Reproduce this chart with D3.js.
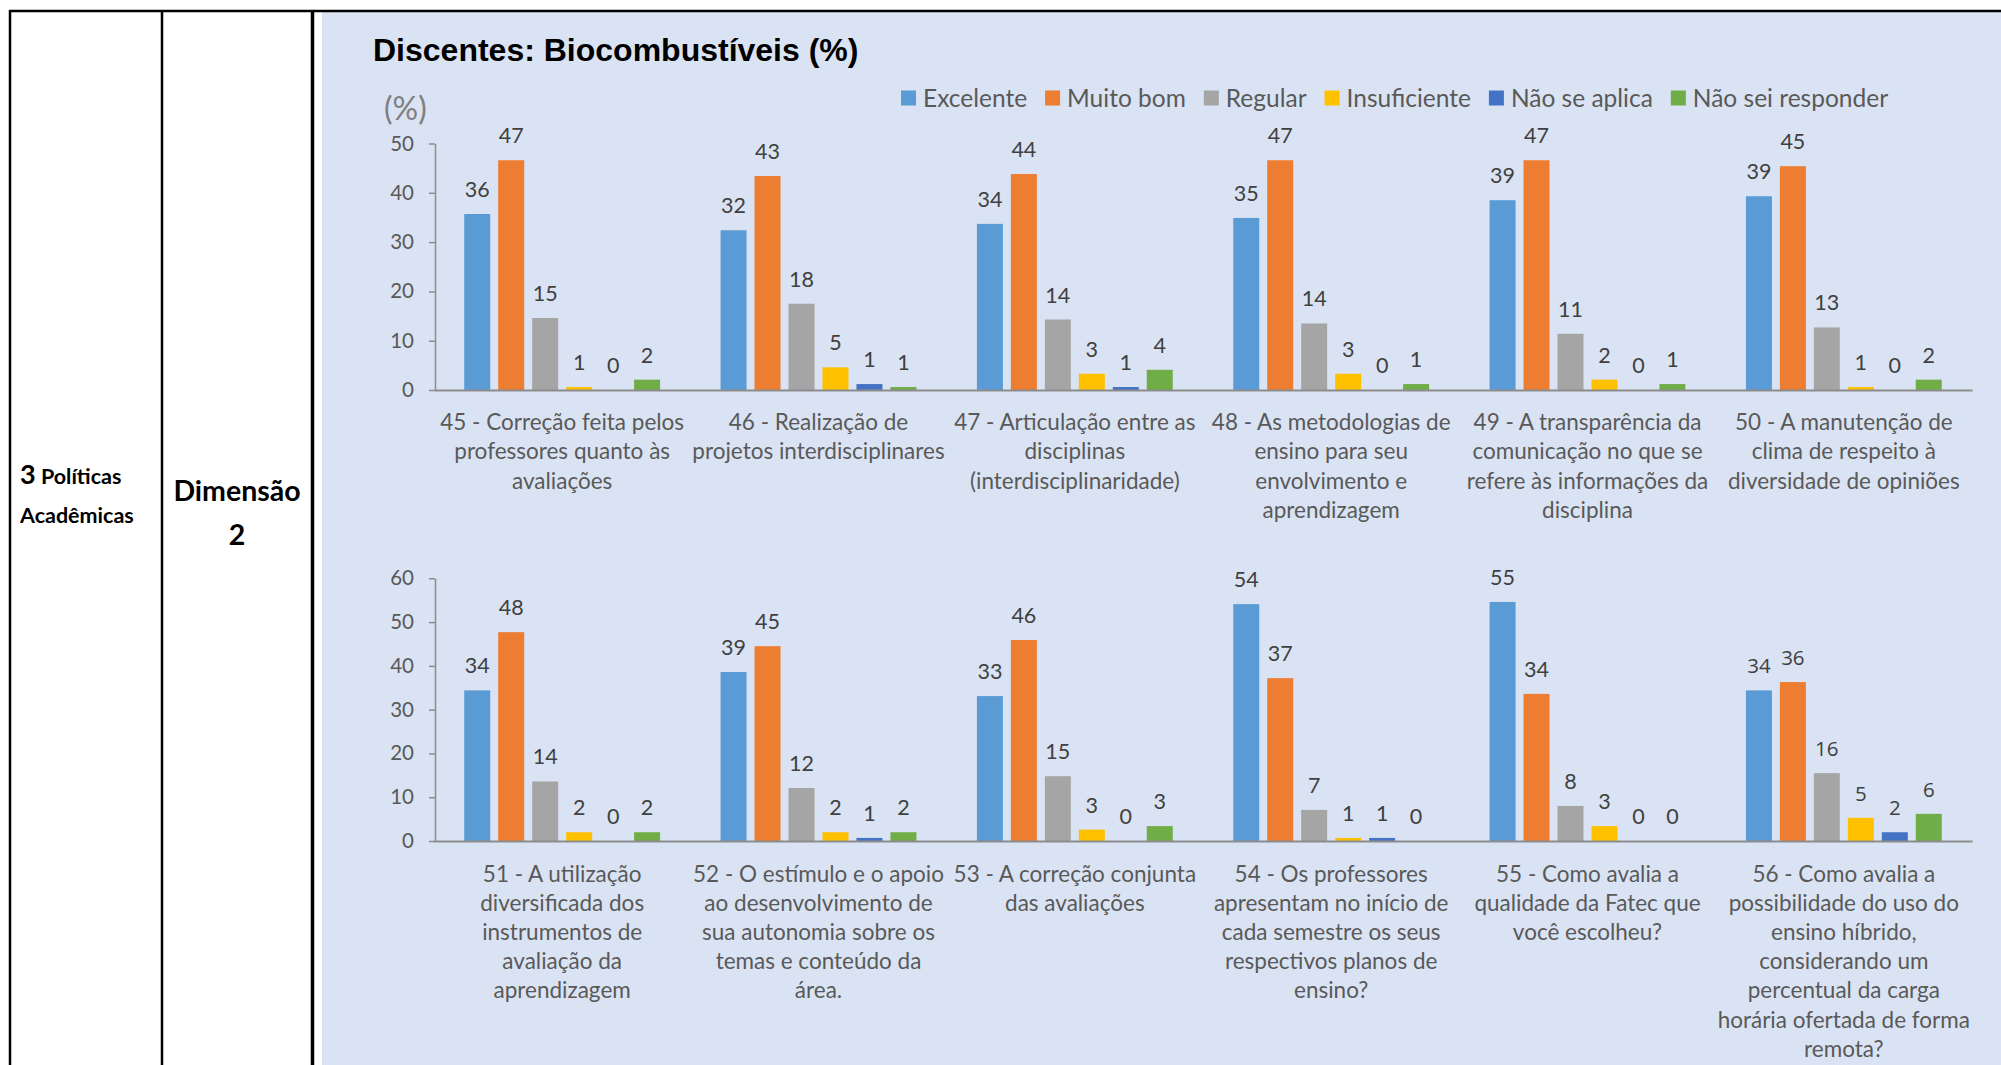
<!DOCTYPE html>
<html>
<head>
<meta charset="utf-8">
<script src="https://cdn.jsdelivr.net/npm/d3@7"></script>
<style>
  html, body { margin: 0; padding: 0; background: #ffffff; }
  svg { display: block; }
</style>
</head>
<body>
<svg id="chart" width="2001" height="1065"></svg>
<script>
// ---------- DATA ----------
const series = ["Excelente", "Muito bom", "Regular", "Insuficiente", "Não se aplica", "Não sei responder"];
const seriesColors = ["#5B9BD5", "#ED7D31", "#A5A5A5", "#FFC000", "#4472C4", "#70AD47"];

const topCategories = [
  ["45 - Correção feita pelos", "professores quanto às", "avaliações"],
  ["46 - Realização de", "projetos interdisciplinares"],
  ["47 - Articulação entre as", "disciplinas", "(interdisciplinaridade)"],
  ["48 - As metodologias de", "ensino para seu", "envolvimento e", "aprendizagem"],
  ["49 - A transparência da", "comunicação no que se", "refere às informações da", "disciplina"],
  ["50 - A manutenção de", "clima de respeito à", "diversidade de opiniões"]
];
const topValues = [
  [35.7, 46.6, 14.6, 0.6, 0.0, 2.1],
  [32.4, 43.4, 17.5, 4.6, 1.2, 0.6],
  [33.7, 43.8, 14.3, 3.3, 0.6, 4.1],
  [34.9, 46.6, 13.5, 3.3, 0.0, 1.2],
  [38.5, 46.6, 11.4, 2.1, 0.0, 1.2],
  [39.3, 45.4, 12.7, 0.6, 0.0, 2.1]
];
const topTicks = [0, 10, 20, 30, 40, 50];

const bottomCategories = [
  ["51 - A utilização", "diversificada dos", "instrumentos de", "avaliação da", "aprendizagem"],
  ["52 - O estímulo e o apoio", "ao desenvolvimento de", "sua autonomia sobre os", "temas e conteúdo da", "área."],
  ["53 - A correção conjunta", "das avaliações"],
  ["54 - Os professores", "apresentam no início de", "cada semestre os seus", "respectivos planos de", "ensino?"],
  ["55 - Como avalia a", "qualidade da Fatec que", "você escolheu?"],
  ["56 - Como avalia a", "possibilidade do uso do", "ensino híbrido,", "considerando um", "percentual da carga", "horária ofertada de forma", "remota?"]
];
const bottomValues = [
  [34.4, 47.7, 13.6, 2.0, 0.0, 2.0],
  [38.6, 44.5, 12.1, 2.0, 0.7, 2.0],
  [33.1, 45.9, 14.8, 2.6, 0.0, 3.4],
  [54.1, 37.2, 7.1, 0.7, 0.7, 0.0],
  [54.6, 33.6, 8.0, 3.4, 0.0, 0.0],
  [34.4, 36.3, 15.5, 5.3, 2.0, 6.2]
];
const bottomTicks = [0, 10, 20, 30, 40, 50, 60];

const titleText = "Discentes: Biocombustíveis (%)";
const unitText = "(%)";

// ---------- DRAWING ----------
const svg = d3.select("#chart");
const W = 2001, H = 1065;
const FONT = "Lato, 'Open Sans', sans-serif";
const ALT_FONT = "'Open Sans', Lato, sans-serif";

svg.append("rect").attr("x", 0).attr("y", 0).attr("width", W).attr("height", H).attr("fill", "#ffffff");

// chart panel
svg.append("rect").attr("x", 322).attr("y", 12).attr("width", W - 322).attr("height", H - 12).attr("fill", "#DAE3F3");

// table lines
const tbl = svg.append("g").attr("stroke", "#000");
tbl.append("line").attr("x1", 9).attr("x2", W).attr("y1", 11).attr("y2", 11).attr("stroke-width", 2.5);
tbl.append("line").attr("x1", 10).attr("x2", 10).attr("y1", 10).attr("y2", H).attr("stroke-width", 2.5);
tbl.append("line").attr("x1", 162).attr("x2", 162).attr("y1", 10).attr("y2", H).attr("stroke-width", 2.5);
tbl.append("line").attr("x1", 312.5).attr("x2", 312.5).attr("y1", 10).attr("y2", H).attr("stroke-width", 3.5);

// left cell texts
const t1 = svg.append("text").attr("x", 20).attr("y", 484).attr("font-family", FONT).attr("font-weight", "bold").attr("fill", "#000");
t1.append("tspan").attr("font-size", 27).text("3");
t1.append("tspan").attr("font-size", 21.5).text(" Políticas");
svg.append("text").attr("x", 20).attr("y", 523).attr("font-family", FONT).attr("font-weight", "bold")
  .attr("font-size", 21.5).attr("fill", "#000").text("Acadêmicas");
svg.append("text").attr("x", 237).attr("y", 501).attr("text-anchor", "middle").attr("font-family", FONT)
  .attr("font-weight", "bold").attr("font-size", 28.5).attr("fill", "#000").text("Dimensão");
svg.append("text").attr("x", 237).attr("y", 545).attr("text-anchor", "middle").attr("font-family", FONT)
  .attr("font-weight", "bold").attr("font-size", 28.5).attr("fill", "#000").text("2");

// title
svg.append("text").attr("x", 373).attr("y", 61).attr("font-family", "'Liberation Sans', Arial, sans-serif")
  .attr("font-weight", "bold").attr("font-size", 32).attr("fill", "#000").text(titleText);

// unit label
svg.append("text").attr("x", 384).attr("y", 120).attr("font-family", FONT)
  .attr("font-size", 32).attr("fill", "#7F7F7F").text(unitText);

// legend
const legend = svg.append("g").attr("font-family", FONT).attr("font-size", 24.5).attr("fill", "#595959");
let lx = 901;
series.forEach((s, i) => {
  legend.append("rect").attr("x", lx).attr("y", 90.5).attr("width", 15).attr("height", 15).attr("fill", seriesColors[i]);
  const tx = legend.append("text").attr("x", lx + 22).attr("y", 106.5).text(s);
  const w = tx.node().getComputedTextLength();
  lx = lx + 22 + w + 18;
});

const color = d3.scaleOrdinal(series, seriesColors);

function drawPanel(categories, values, ticks, yBottom, yTop, labelY, lineH, altFontGroup) {
  const ids = categories.map((c, i) => "g" + i);
  const x0 = d3.scaleBand(ids, [434, 1972]).paddingInner(0).paddingOuter(0);
  const x1 = d3.scaleBand(series, [0, x0.bandwidth()]).paddingInner(0.235).paddingOuter(0.89);
  const y = d3.scaleLinear([ticks[0], ticks[ticks.length - 1]], [yBottom, yTop]);

  const g = svg.append("g");

  // bars
  const groups = g.selectAll("g.grp").data(values).join("g").attr("class", "grp")
    .attr("transform", (d, i) => `translate(${x0(ids[i])},0)`);
  groups.selectAll("rect").data(d => d.map((v, j) => ({ s: series[j], v })))
    .join("rect")
    .attr("x", d => x1(d.s))
    .attr("width", x1.bandwidth())
    .attr("y", d => y(d.v))
    .attr("height", d => y(0) - y(d.v))
    .attr("fill", d => color(d.s));

  // data labels
  groups.each(function (row, gi) {
    const alt = gi === altFontGroup;
    d3.select(this).selectAll("text").data(row.map((v, j) => ({ s: series[j], v })))
      .join("text")
      .attr("x", d => x1(d.s) + x1.bandwidth() / 2)
      .attr("y", d => y(d.v) - 17)
      .attr("text-anchor", "middle")
      .attr("font-family", alt ? ALT_FONT : FONT)
      .attr("font-size", alt ? 20.5 : 21.5)
      .attr("fill", "#404040")
      .text(d => Math.round(d.v));
  });

  // y axis
  const yAxis = g.append("g").attr("transform", "translate(435,0)")
    .call(d3.axisLeft(y).tickValues(ticks).tickSize(6).tickSizeOuter(0).tickPadding(15));
  yAxis.select(".domain").attr("stroke", "#8C8C8C").attr("stroke-width", 1.5);
  yAxis.selectAll(".tick line").attr("stroke", "#8C8C8C").attr("stroke-width", 1.5);
  yAxis.selectAll(".tick text").attr("font-family", FONT).attr("font-size", 20.5).attr("fill", "#595959");

  // x axis
  const xAxis = g.append("g").attr("transform", `translate(0,${yBottom})`)
    .call(d3.axisBottom(x0).tickSize(0).tickSizeOuter(0).tickFormat(""));
  xAxis.select(".domain").attr("stroke", "#8C8C8C").attr("stroke-width", 2.2);
  xAxis.selectAll(".tick text").remove();
  xAxis.selectAll(".tick").each(function (d, i) {
    const t = d3.select(this).append("text")
      .attr("text-anchor", "middle")
      .attr("font-family", FONT)
      .attr("font-size", 22.5)
      .attr("fill", "#595959")
      .attr("y", labelY - yBottom);
    categories[i].forEach((line, k) => {
      t.append("tspan").attr("x", 0).attr("dy", k === 0 ? 0 : lineH).text(line);
    });
  });
}

drawPanel(topCategories, topValues, topTicks, 390, 143.5, 430, 29.3, -1);
drawPanel(bottomCategories, bottomValues, bottomTicks, 841, 578.3, 882, 29.1, 5);
</script>
</body>
</html>
